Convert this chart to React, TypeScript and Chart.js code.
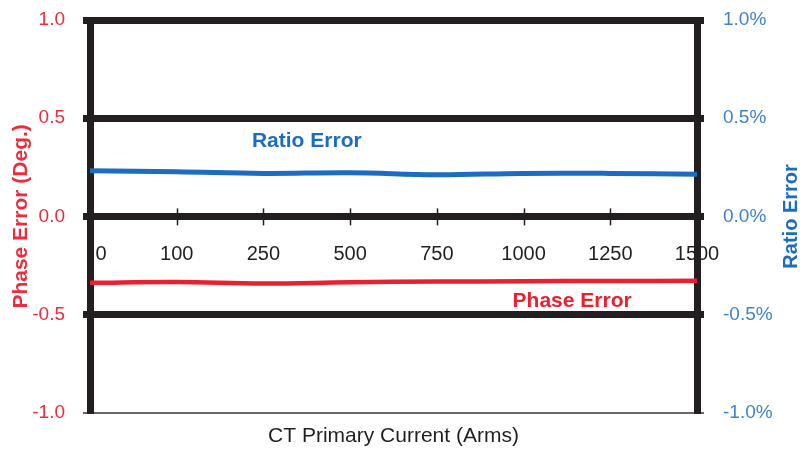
import React, { useEffect, useRef } from "react";
import { Chart, registerables } from "chart.js";

Chart.register(...registerables);

const currents = ["0", "100", "250", "500", "750", "1000", "1250", "1500"];
const phaseError = [-0.338, -0.334, -0.342, -0.335, -0.332, -0.33, -0.329, -0.328];
const ratioError = [0.232, 0.227, 0.219, 0.222, 0.212, 0.219, 0.219, 0.215];
const leftTicks = [-1, -0.5, 0, 0.5, 1];

const RED = "#E8202F";
const RED_TEXT = "#EC2D3E";
const BLUE = "#1C6DBF";
const BLUE_TEXT = "#3F84CB";
const BLACK = "#231F20";
const FONT = "'Liberation Sans', Arial, sans-serif";

const extrasPlugin = {
  id: "extras",
  beforeDraw(chart: any) {
    // nudge the first category label clear of the thick left border
    const items = chart.scales.x.getLabelItems(chart.chartArea);
    if (items && items[0] && items[0].options && items[0].options.translation) {
      const t = items[0].options.translation;
      items[0].options.translation = [t[0] + 11, t[1]];
    }
  },
  beforeDatasetsDraw(chart: any) {
    const { ctx, scales } = chart;
    const x = scales.x;
    const y0 = scales.y.getPixelForValue(0);
    ctx.save();
    ctx.strokeStyle = BLACK;
    ctx.lineWidth = 1.5;
    for (let i = 1; i < currents.length - 1; i++) {
      const px = Math.round(x.getPixelForValue(i)) + 0.5;
      ctx.beginPath();
      ctx.moveTo(px, y0 - 8);
      ctx.lineTo(px, y0 + 9);
      ctx.stroke();
    }
    ctx.restore();
  },
  afterDatasetsDraw(chart: any) {
    const { ctx, scales, chartArea } = chart;
    ctx.save();
    ctx.textAlign = "center";
    ctx.textBaseline = "middle";
    ctx.font = `bold 21px ${FONT}`;
    ctx.fillStyle = BLUE;
    ctx.fillText("Ratio Error", scales.x.getPixelForValue(2.5), scales.y1.getPixelForValue(0.385));
    ctx.fillStyle = RED;
    ctx.fillText("Phase Error", scales.x.getPixelForValue(5.56), scales.y.getPixelForValue(-0.43));
    // right axis title, reading bottom-to-top
    ctx.translate(chart.width - 9, (chartArea.top + chartArea.bottom) / 2);
    ctx.rotate(-Math.PI / 2);
    ctx.font = `bold 20px ${FONT}`;
    ctx.fillStyle = BLUE;
    ctx.fillText("Ratio Error", 0, 0);
    ctx.restore();
  },
};

export default function App() {
  const ref = useRef<HTMLCanvasElement | null>(null);
  useEffect(() => {
    if (!ref.current) return;
    const chart = new Chart(ref.current, {
      type: "line",
      data: {
        labels: currents,
        datasets: [
          {
            label: "Phase Error",
            data: phaseError,
            yAxisID: "y",
            borderColor: RED,
            borderWidth: 4.5,
            pointRadius: 0,
            tension: 0.4,
          },
          {
            label: "Ratio Error",
            data: ratioError,
            yAxisID: "y1",
            borderColor: BLUE,
            borderWidth: 5,
            pointRadius: 0,
            tension: 0.4,
          },
        ],
      },
      plugins: [extrasPlugin],
      options: {
        animation: false,
        responsive: false,
        layout: { padding: { top: 20, left: 0, right: 0, bottom: 0 } },
        plugins: {
          legend: { display: false },
          tooltip: { enabled: false },
          title: {
            display: true,
            position: "bottom",
            fullSize: false,
            text: "CT Primary Current (Arms)",
            color: BLACK,
            font: { family: FONT, size: 21, weight: "normal", lineHeight: 1.2 },
            padding: { top: 11, bottom: 1 },
          },
        },
        scales: {
          x: {
            type: "category",
            position: { y: 0 } as any,
            offset: false,
            afterFit: (s: any) => {
              s.height = 0;
              s.paddingTop = 0;
              s.paddingBottom = 0;
            },
            grid: { display: false, drawTicks: false },
            border: { display: false },
            ticks: {
              color: BLACK,
              font: { family: FONT, size: 20 },
              padding: 26,
              autoSkip: false,
              maxRotation: 0,
            },
          },
          y: {
            position: "left",
            min: -1,
            max: 1,
            afterBuildTicks: (s: any) => {
              s.ticks = leftTicks.map((v) => ({ value: v }));
            },
            afterFit: (s: any) => {
              s.width = 90;
              s.paddingTop = 0;
              s.paddingBottom = 0;
            },
            ticks: {
              color: RED_TEXT,
              font: { family: FONT, size: 19 },
              padding: 18,
              callback: (v: any) => Number(v).toFixed(1),
            },
            grid: {
              color: (c: any) => (c.tick && c.tick.value === -1 ? "#6B6767" : BLACK),
              lineWidth: (c: any) => (c.tick && c.tick.value === -1 ? 2 : 7),
              tickLength: 7,
            },
            border: { display: true, color: BLACK, width: 7 },
            title: {
              display: true,
              text: "Phase Error (Deg.)",
              color: RED_TEXT,
              font: { family: FONT, size: 21, weight: "bold", lineHeight: 1.2 },
              padding: { top: 9, bottom: 0 },
            },
          },
          y1: {
            position: "right",
            min: -1,
            max: 1,
            afterBuildTicks: (s: any) => {
              s.ticks = leftTicks.map((v) => ({ value: v }));
            },
            afterFit: (s: any) => {
              s.width = 103;
              s.paddingTop = 0;
              s.paddingBottom = 0;
            },
            ticks: {
              color: BLUE_TEXT,
              font: { family: FONT, size: 19 },
              padding: 19,
              callback: (v: any) => Number(v).toFixed(1) + "%",
            },
            grid: {
              drawOnChartArea: false,
              color: (c: any) => (c.tick && c.tick.value === -1 ? "#6B6767" : BLACK),
              lineWidth: (c: any) => (c.tick && c.tick.value === -1 ? 2 : 7),
              tickLength: 7,
            },
            border: { display: true, color: BLACK, width: 7 },
          },
        },
      } as any,
    });
    return () => chart.destroy();
  }, []);
  return (
    <div style={{ position: "absolute", left: 0, top: 0, width: 800, height: 450, background: "#fff" }}>
      <canvas ref={ref} width={800} height={450} style={{ width: 800, height: 450, display: "block" }} />
    </div>
  );
}
